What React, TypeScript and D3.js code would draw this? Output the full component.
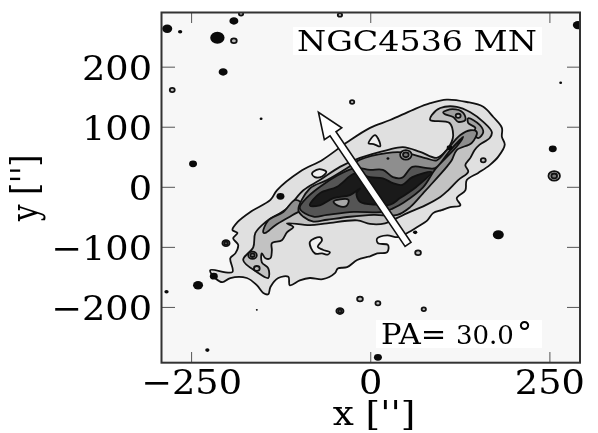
import React from "react";
import * as d3 from "d3";

type P = [number, number];
type S = [number, number, number];

const xTicks = [-250, 0, 250];
const yTicks = [-200, -100, 0, 100, 200];

const level1: P[] = [[-131,-5],[-99,26],[-67,46],[-33,75],[-1,99],[27,112],[59,129],[83,140],[106,146],[134,142],[157,134],[171,117],[183,99],[183,84],[187,71],[178,51],[166,37],[150,24],[134,12],[132,-5],[120,-18],[125,-30],[111,-33],[99,-38],[87,-43],[79,-55],[65,-66],[51,-76],[38,-83],[23,-80],[9,-85],[10,-93],[24,-96],[23,-108],[9,-110],[-1,-115],[-5,-116],[-19,-121],[-33,-133],[-46,-135],[-50,-143],[-67,-153],[-85,-151],[-99,-155],[-113,-163],[-115,-149],[-129,-151],[-140,-166],[-143,-178],[-150,-176],[-159,-163],[-173,-151],[-196,-151],[-207,-158],[-217,-151],[-224,-138],[-193,-141],[-196,-118],[-189,-110],[-185,-96],[-192,-85],[-186,-76],[-193,-71],[-186,-58],[-168,-41],[-140,-21]];
const level2: P[] = [[-178,-121],[-164,-100],[-161,-76],[-147,-58],[-117,-35],[-94,-5],[-71,12],[-43,34],[-15,49],[23,62],[45,67],[69,59],[92,49],[106,62],[113,76],[115,87],[110,107],[83,112],[85,120],[97,132],[120,134],[139,125],[157,109],[169,92],[166,82],[152,71],[145,62],[139,49],[132,37],[136,26],[122,12],[108,-5],[97,-16],[76,-30],[51,-43],[37,-51],[20,-60],[-1,-61],[-19,-55],[-61,-60],[-85,-63],[-117,-60],[-108,-66],[-117,-75],[-124,-88],[-138,-93],[-138,-105],[-140,-118],[-147,-118],[-152,-110],[-152,-125],[-143,-135],[-143,-151],[-159,-141]];
const level3: P[] = [[-101,-38],[-85,-2],[-61,12],[-33,32],[-15,46],[22,57],[45,58],[78,48],[92,45],[106,62],[125,87],[139,95],[148,92],[141,74],[120,62],[113,45],[106,34],[83,3],[73,-10],[55,-33],[37,-46],[4,-46],[-29,-49],[-61,-54],[-80,-57],[-94,-49]];
const level4: P[] = [[-99,-35],[-88,-16],[-46,20],[-22,32],[-1,29],[17,29],[31,17],[44,16],[58,34],[79,32],[90,32],[111,62],[129,84],[120,68],[90,30],[73,0],[45,-26],[31,-35],[18,-41],[-24,-41],[-61,-46],[-80,-49]];
const level5: P[] = [[-85,-30],[-71,-10],[-47,1],[-22,23],[-1,17],[17,15],[31,7],[44,4],[58,17],[85,25],[64,1],[41,-18],[27,-29],[8,-29],[-15,-24],[-20,-10],[-15,-2],[-29,-13],[-52,-18],[-71,-30]];
const coreHole: P[] = [[-52,-24],[-43,-20],[-31,-21],[-34,-31],[-45,-31]];
const holeA: P[] = [[-3,73],[6,87],[13,73],[13,68],[4,72]];
const holeB: P[] = [[-85,-91],[-71,-83],[-68,-88],[-74,-99],[-67,-104],[-57,-108],[-60,-112],[-68,-110],[-78,-110]];
const holeC: P[] = [[-82,23],[-73,30],[-62,26],[-68,18],[-78,17]];
const lobeA: P[] = [[101,125],[114,130],[129,124],[132,112],[122,109],[115,117],[103,122]];
const lobeB: P[] = [[136,115],[152,104],[157,92],[150,82],[143,90],[146,99],[136,107]];
const armLeft: P[] = [[-150,-75],[-143,-55],[-122,-41],[-105,-21],[-92,-33],[-109,-46],[-133,-63],[-147,-76]];

const solidSpots: S[] = [[-214,249,100],[-284,264,49],[-266,259,9],[-191,277,39],[-206,192,39],[-153,114,4],[-248,39,31],[289,270,49],[265,174,4],[254,64,31],[-126,-15,31],[-241,-163,49],[-285,-174,9],[-159,-204,2],[-228,-271,9],[10,-283,31],[178,-79,59],[62,-75,9],[-219,-148,31],[110,66,16],[24,48,4]];
const ringSpots: S[] = [[-181,289,9],[-191,244,16],[-43,287,9],[-277,162,12],[-26,142,9],[256,19,64],[-43,-206,25],[-15,-186,16],[-202,-93,25],[74,-203,9],[10,-193,12],[66,-109,16],[157,45,12],[49,54,64],[-165,-113,36],[-159,-135,16],[122,119,12]];

const arrowTail: P = [52, -95];
const arrowTip: P = [-73, 125];

const x = d3.scaleLinear().domain([-292, 292]).range([161.5, 580]);
const y = d3.scaleLinear().domain([-292, 291]).range([362.7, 12.5]);
const rx = (r: number) => r * 0.717;
const ry = (r: number) => r * 0.6;
const radius = d3.scaleSqrt().domain([0, 100]).range([0, 10]);
const contour = d3.line<P>().x(d => x(d[0])).y(d => y(d[1])).curve(d3.curveCatmullRomClosed.alpha(0.5));

const SERIF = "'DejaVu Serif', serif";

function Stretch({ px, py, sx = 1.08, rotate = 0, size, anchor = "middle", children }: any) {
  return (
    <text transform={`translate(${px},${py}) scale(${sx},1) rotate(${rotate})`} fontFamily={SERIF} fontSize={size} textAnchor={anchor} fill="#000">
      {children}
    </text>
  );
}

export default function App() {
  const tx0 = x(arrowTail[0]), ty0 = y(arrowTail[1]), tx1 = x(arrowTip[0]), ty1 = y(arrowTip[1]);
  const len = Math.hypot(tx1 - tx0, ty1 - ty0);
  const ux = (tx1 - tx0) / len, uy = (ty1 - ty0) / len;
  const nx = -uy, ny = ux;
  const hw = 3.6, headW = 10.5, headL = 26;
  const pt = (a: number, b: number) => `${tx0 + ux * a + nx * b},${ty0 + uy * a + ny * b}`;
  const arrow = [pt(0, -hw), pt(len - headL, -hw), pt(len - headL, -headW), pt(len, 0), pt(len - headL, headW), pt(len - headL, hw), pt(0, hw)].join(" ");

  return (
    <svg width={598} height={433} style={{ position: "absolute", left: 0, top: 0, background: "#fff", filter: "blur(0.4px)" }}>
      <defs>
        <clipPath id="plot"><rect x={161.5} y={12.5} width={418.5} height={350.2} /></clipPath>
      </defs>
      <rect x={161.5} y={12.5} width={418.5} height={350.2} fill="#f7f7f7" />
      <g clipPath="url(#plot)" stroke="#111" strokeWidth={1.8} strokeLinejoin="round">
        <path d={contour(level1)!} fill="#e0e0e0" />
        <path d={contour(holeA)!} fill="#f0f0f0" />
        <path d={contour(holeB)!} fill="#f0f0f0" />
        <path d={contour(holeC)!} fill="#f0f0f0" />
        <path d={contour(level2)!} fill="#c2c2c2" />
        <path d={contour(armLeft)!} fill="#8e8e8e" />
        <path d={contour(lobeA)!} fill="#a0a0a0" />
        <path d={contour(lobeB)!} fill="#a0a0a0" />
        <path d={contour(level3)!} fill="#8e8e8e" />
        <path d={contour(level4)!} fill="#555" />
        <path d={contour(coreHole)!} fill="#a8a8a8" />
        <path d={contour(level5)!} fill="#1a1a1a" />
        {solidSpots.map((s, i) => (
          <ellipse key={"s" + i} cx={x(s[0])} cy={y(s[1])} rx={rx(radius(s[2]))} ry={ry(radius(s[2]))} fill="#0a0a0a" stroke="none" />
        ))}
        {ringSpots.map((s, i) => (
          <g key={"r" + i} fill="none">
            <ellipse cx={x(s[0])} cy={y(s[1])} rx={rx(radius(s[2]))} ry={ry(radius(s[2]))} fill="#bbb" />
            {s[2] >= 25 && <ellipse cx={x(s[0])} cy={y(s[1])} rx={rx(radius(s[2])) * 0.5} ry={ry(radius(s[2])) * 0.5} fill="#777" />}
          </g>
        ))}
      </g>
      <polygon points={arrow} fill="#fff" stroke="#111" strokeWidth={1.6} strokeLinejoin="miter" />
      <rect x={293} y={27} width={249} height={28} fill="#fff" />
      <rect x={376} y={320} width={166} height={28} fill="#fff" />
      <g stroke="#555" strokeWidth={1}>
        {xTicks.map(t => (
          <g key={t}>
            <line x1={x(t)} x2={x(t)} y1={362.7} y2={352} />
            <line x1={x(t)} x2={x(t)} y1={12.5} y2={23} />
          </g>
        ))}
        {yTicks.map(t => (
          <g key={t}>
            <line x1={161.5} x2={175} y1={y(t)} y2={y(t)} />
            <line x1={567} x2={580} y1={y(t)} y2={y(t)} />
          </g>
        ))}
      </g>
      <rect x={161.5} y={12.5} width={418.5} height={350.2} fill="none" stroke="#333" strokeWidth={2} />
      {xTicks.map(t => (
        <Stretch key={t} px={x(t)} py={394} size={34}>{t < 0 ? `\u2212${-t}` : `${t}`}</Stretch>
      ))}
      {yTicks.map(t => (
        <Stretch key={t} px={152} py={y(t) + 12.5} size={34} anchor="end">{t < 0 ? `\u2212${-t}` : `${t}`}</Stretch>
      ))}
      <Stretch px={374} py={424.6} size={34} sx={1.1}>x ['']</Stretch>
      <Stretch px={37} py={188} size={30} sx={1.27} rotate={-90}>y ['']</Stretch>
      <Stretch px={297} py={51} size={28} sx={1.19} anchor="start">NGC4536 MN</Stretch>
      <Stretch px={381} py={344} size={28} sx={1.09} anchor="start">PA=</Stretch>
      <Stretch px={456} py={344} size={26} sx={1} anchor="start">30.0</Stretch>
      <Stretch px={517} py={343} size={30} sx={1} anchor="start">{"\u00b0"}</Stretch>
    </svg>
  );
}
